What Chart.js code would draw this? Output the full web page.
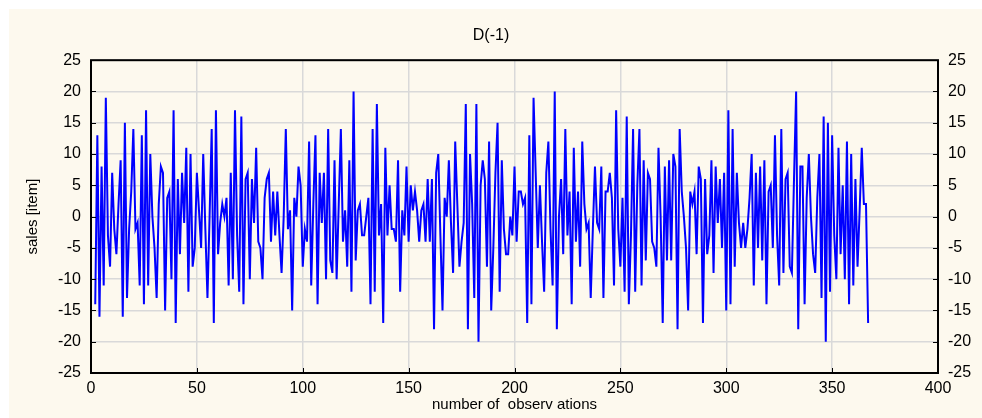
<!DOCTYPE html>
<html>
<head>
<meta charset="utf-8">
<script src="https://cdn.jsdelivr.net/npm/chart.js@4"></script>
<style>
  body { margin: 0; background: #fff; }
  #bg { position: absolute; left: 9px; top: 9px; width: 973px; height: 409px; background: #fdf9ee; }
  #myChart { position: absolute; left: 0; top: 0; }
</style>
</head>
<body>
<div id="bg"></div>
<canvas id="myChart" width="982" height="418"></canvas>
<script>
var firstObs = 2;
var sales = [
  -14, 13, -16, 8, -11, 19, -3, -8, 7, -2, -6, 2, 9, -16, 15, -13, -2, 4, 14, -2, -1, -11, 13, -14, 17, -11, 10, 0, -5, -13, 2, 8, 7, -15, 3,
  4, -10, 17, -17, 6, -6, 7, -1, 11, -12, 10, -8, -5, 7, 1, -5, 10, -2, -13, 0, 14, -17, 17, -6, -1, 2, 0, 3, -11, 7, -10, 17, -3, -12, 16, -14, 6,
  7, -10, 6, -1, 11, -4, -5, -10, 3, 6, 7, -4, 4, -3, 4, -3, -9, 0, 14, -2, 1, -15, 3, 0, 8, 5, -8, -2, -4, 12, -11, 2, 13, -14, 7, -1,
  7, -10, 14, -7, -9, 9, -10, 2, 14, -4, 1, -8, 9, -12, 20, -7, 1, 2, -3, -3, 0, 3, -14, 14, -12, 18, -3, 2, -17, 11, -3, 5, -2, -2, -4, 9, -12, 1,
  -3, 8, -4, 5, 1, 4, 1, -4, 1, 2, -4, 6, -4, 6, -18, 7, 10, -3, -15, 3, 0, 9, -1, -9, 12, 2, -8, -4, -1, 18, -18, 10, 2, -13, 18, -20,
  5, 9, 6, -8, 12, -15, -5, 7, 15, -12, 9, -2, -6, -6, 0, -3, 8, -4, 4, 4, 2, 3, -17, 13, -14, 19, 7, -5, 5, -4, -12, 7, 12, -2, -11, 20, -18,
  0, 6, -6, 14, -3, 4, -14, 11, -4, 4, -8, 12, 2, -2, -1, -13, -2, 8, -1, -2, 8, -13, 4, 4, 7, 3, -11, 17, -2, -8, 3, -12, 16, -14, -3, 14, -12,
  5, 14, -11, 9, -7, 7, 6, -4, -5, -8, 11, 0, -17, 8, -7, 9, -7, 10, 8, -18, 14, 4, 0, -5, -15, 4, 2, 4, -6, 8, 6, -17, 6, -6, -3, 9, -9,
  8, -1, 6, -5, 7, -15, 17, -14, 14, -8, 7, -1, -5, -1, -5, -2, 3, 10, -11, 7, -5, 8, -7, 9, -14, 4, 5, -5, 13, -3, -11, 14, -9, 6, 7, -8, -9,
  6, 20, -18, 8, 8, -14, 3, 10, 0, -6, -9, 3, 10, -13, 16, -20, 15, -12, 13, -3, -10, 11, -6, 5, -10, 12, -14, 10, -11, 6, -8, 1, 11, 2, 2, -17
];
var xTicks = [0, 50, 100, 150, 200, 250, 300, 350, 400];
var yTicks = [-25, -20, -15, -10, -5, 0, 5, 10, 15, 20, 25];

var points = sales.map(function (v, i) { return { x: firstObs + i, y: v }; });

var font = 'Liberation Sans, Arial, sans-serif';
var gridColor = '#d9d9d9';

// black frame and short inward ticks, like the original plot
var framePlugin = {
    id: 'frame',
    afterDraw: function (chart) {
        var c = chart.ctx, a = chart.chartArea;
        c.save();
        c.strokeStyle = '#000';
        c.lineWidth = 1;
        c.beginPath();
        xTicks.forEach(function (t) {
            var px = Math.round(chart.scales.x.getPixelForValue(t)) + 0.5;
            c.moveTo(px, a.bottom); c.lineTo(px, a.bottom - 5);
        });
        yTicks.forEach(function (t) {
            var py = Math.round(chart.scales.y.getPixelForValue(t)) + 0.5;
            c.moveTo(a.left, py); c.lineTo(a.left + 5, py);
            c.moveTo(a.right, py); c.lineTo(a.right - 5, py);
        });
        c.stroke();
        c.lineWidth = 2;
        c.strokeRect(a.left, a.top, a.right - a.left, a.bottom - a.top);
        c.restore();
    }
};

var ctx = document.getElementById('myChart').getContext('2d');
var chart = new Chart(ctx, {
    type: 'line',
    data: {
        datasets: [{
            label: 'D(-1)',
            data: points,
            borderColor: '#0000ff',
            borderWidth: 2,
            pointRadius: 0,
            tension: 0,
            fill: false
        }]
    },
    options: {
        responsive: false,
        animation: false,
        layout: { padding: 0 },
        scales: {
            x: {
                type: 'linear',
                min: 0,
                max: 400,
                afterBuildTicks: function (s) { s.ticks = xTicks.map(function (v) { return { value: v }; }); },
                afterFit: function (s) { s.height = 45; },
                ticks: { color: '#000', font: { family: font, size: 16 }, padding: 6, maxRotation: 0 },
                grid: { color: gridColor, lineWidth: 1.5, drawTicks: false },
                border: { display: false },
                title: { display: true, text: 'number of  observ ations', color: '#000',
                         font: { family: font, size: 15 }, padding: { top: 4, bottom: 4 } }
            },
            y: {
                position: 'left',
                min: -25,
                max: 25,
                afterBuildTicks: function (s) { s.ticks = yTicks.map(function (v) { return { value: v }; }); },
                afterFit: function (s) { s.width = 91; },
                ticks: { color: '#000', font: { family: font, size: 16 }, padding: 10 },
                grid: { color: gridColor, lineWidth: 1.5, drawTicks: false },
                border: { display: false },
                title: { display: true, text: 'sales [item]', color: '#000',
                         font: { family: font, size: 15 }, padding: 24 }
            },
            y2: {
                position: 'right',
                min: -25,
                max: 25,
                afterBuildTicks: function (s) { s.ticks = yTicks.map(function (v) { return { value: v }; }); },
                afterFit: function (s) { s.width = 44; },
                ticks: { color: '#000', font: { family: font, size: 16 }, padding: 10 },
                grid: { display: false, drawTicks: false },
                border: { display: false }
            }
        },
        plugins: {
            legend: { display: false },
            tooltip: { enabled: false },
            title: {
                display: true,
                text: 'D(-1)',
                color: '#000',
                font: { family: font, size: 16, weight: 'normal' },
                padding: { top: 26, bottom: 15 }
            }
        }
    },
    plugins: [framePlugin]
});
</script>
</body>
</html>
